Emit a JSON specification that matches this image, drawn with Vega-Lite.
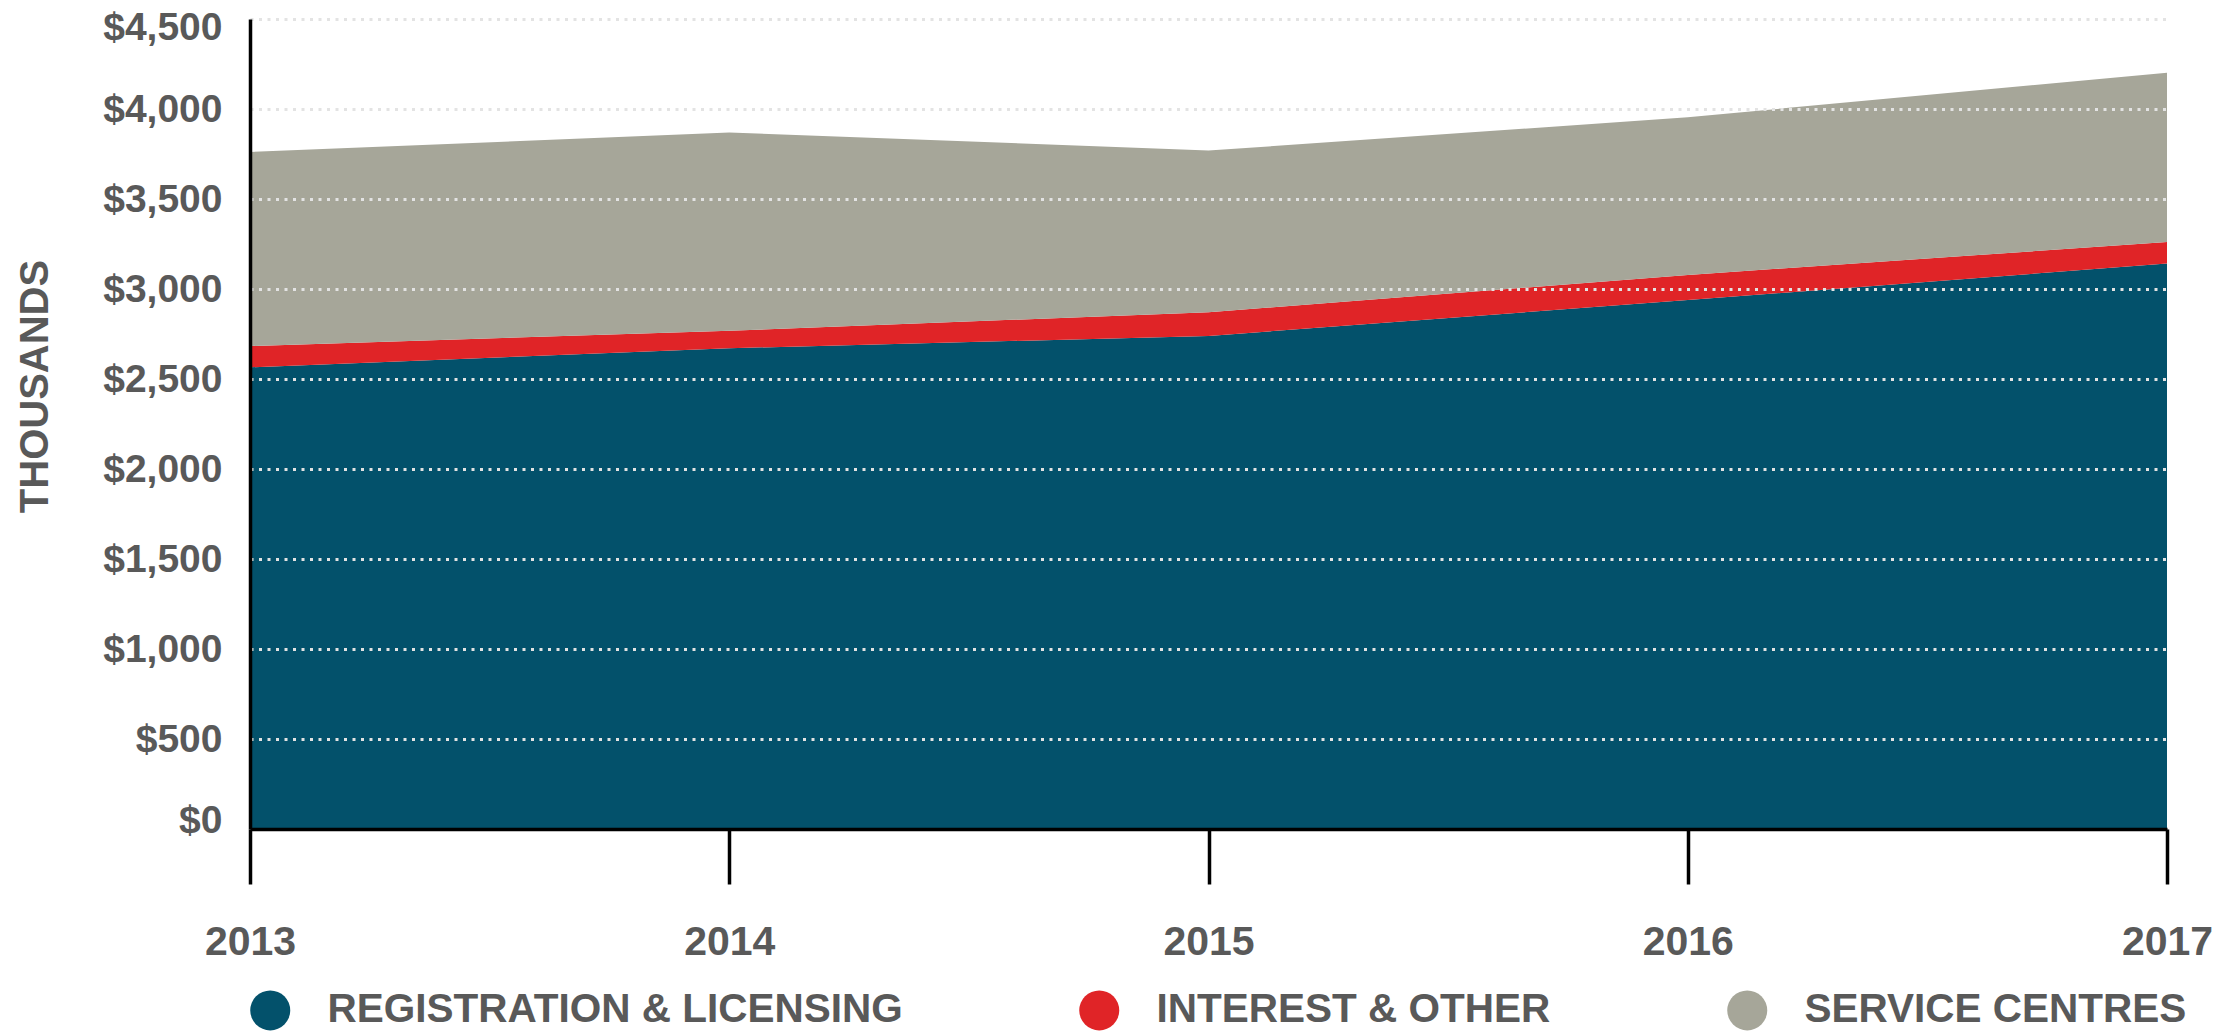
{
  "$schema": "https://vega.github.io/schema/vega-lite/v6.json",
  "width": 1917,
  "height": 810,
  "autosize": {"type": "none"},
  "padding": {"left": 250, "top": 19, "right": 65, "bottom": 202},
  "background": "white",
  "config": {"view": {"stroke": null}, "font": "Liberation Sans"},
  "data": {
    "values": [
      {"year": 2013, "category": "REGISTRATION & LICENSING", "rank": 1, "value": 2565},
      {"year": 2013, "category": "INTEREST & OTHER", "rank": 2, "value": 118},
      {"year": 2013, "category": "SERVICE CENTRES", "rank": 3, "value": 1078},
      {"year": 2014, "category": "REGISTRATION & LICENSING", "rank": 1, "value": 2671},
      {"year": 2014, "category": "INTEREST & OTHER", "rank": 2, "value": 97},
      {"year": 2014, "category": "SERVICE CENTRES", "rank": 3, "value": 1102},
      {"year": 2015, "category": "REGISTRATION & LICENSING", "rank": 1, "value": 2739},
      {"year": 2015, "category": "INTEREST & OTHER", "rank": 2, "value": 132},
      {"year": 2015, "category": "SERVICE CENTRES", "rank": 3, "value": 898},
      {"year": 2016, "category": "REGISTRATION & LICENSING", "rank": 1, "value": 2939},
      {"year": 2016, "category": "INTEREST & OTHER", "rank": 2, "value": 139},
      {"year": 2016, "category": "SERVICE CENTRES", "rank": 3, "value": 876},
      {"year": 2017, "category": "REGISTRATION & LICENSING", "rank": 1, "value": 3141},
      {"year": 2017, "category": "INTEREST & OTHER", "rank": 2, "value": 120},
      {"year": 2017, "category": "SERVICE CENTRES", "rank": 3, "value": 941}
    ]
  },
  "mark": {"type": "area", "interpolate": "linear", "opacity": 1},
  "encoding": {
    "x": {
      "field": "year",
      "type": "quantitative",
      "scale": {"domain": [2013, 2017], "nice": false, "zero": false},
      "axis": {
        "title": null,
        "values": [2013, 2014, 2015, 2016, 2017],
        "format": "d",
        "grid": false,
        "domainColor": "#000000",
        "domainWidth": 3.5,
        "tickColor": "#000000",
        "tickWidth": 3.5,
        "tickSize": 55,
        "labelPadding": 38,
        "labelFontSize": 41,
        "labelFontWeight": "bold",
        "labelColor": "#595959",
        "labelFont": "Liberation Sans",
        "labelFlush": false,
        "zindex": 2
      }
    },
    "y": {
      "field": "value",
      "type": "quantitative",
      "stack": "zero",
      "scale": {"domain": [0, 4500], "nice": false},
      "axis": {
        "title": "THOUSANDS",
        "titleFontSize": 40,
        "titleFontWeight": "bold",
        "titleColor": "#595959",
        "titleFont": "Liberation Sans",
        "titleAngle": -90,
        "titleAlign": "center",
        "titleBaseline": "alphabetic",
        "titleX": -203,
        "titleY": 367,
        "values": [0, 500, 1000, 1500, 2000, 2500, 3000, 3500, 4000, 4500],
        "format": "$,d",
        "ticks": false,
        "tickSize": 0,
        "labelPadding": 28,
        "labelFontSize": 39,
        "labelFontWeight": "bold",
        "labelColor": "#595959",
        "labelFont": "Liberation Sans",
        "labelFlush": true,
        "labelFlushOffset": 11,
        "domainColor": "#000000",
        "domainWidth": 3.5,
        "grid": true,
        "gridColor": "#e3e3e3",
        "gridWidth": 3,
        "gridDash": [3, 5.5],
        "gridOpacity": 1,
        "zindex": 1
      }
    },
    "color": {
      "field": "category",
      "type": "nominal",
      "scale": {
        "domain": ["REGISTRATION & LICENSING", "INTEREST & OTHER", "SERVICE CENTRES"],
        "range": ["#03516b", "#e02427", "#a6a699"]
      },
      "legend": {
        "title": null,
        "orient": "none",
        "direction": "horizontal",
        "legendX": 0,
        "legendY": 971,
        "symbolType": "circle",
        "symbolSize": 1600,
        "symbolStrokeWidth": 0,
        "symbolOpacity": 1,
        "labelFontSize": 40.5,
        "labelFontWeight": "bold",
        "labelColor": "#595959",
        "labelFont": "Liberation Sans",
        "labelOffset": 37,
        "labelLimit": 0,
        "columnPadding": 176
      }
    },
    "order": {"field": "rank", "type": "quantitative"}
  }
}
